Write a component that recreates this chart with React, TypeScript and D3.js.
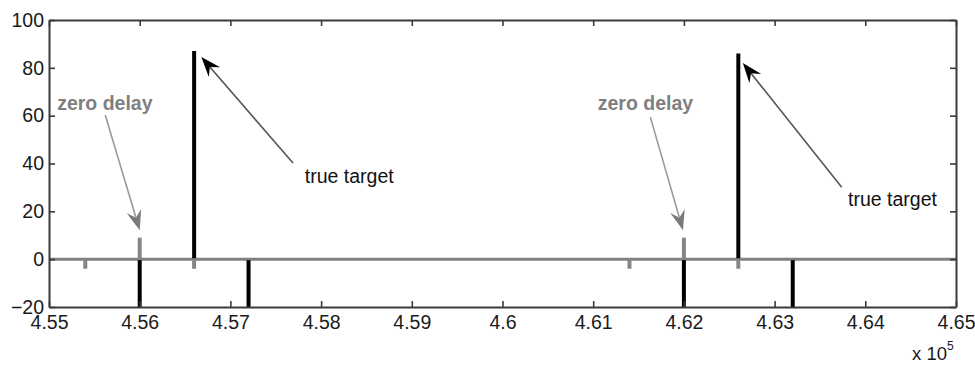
import React, { useEffect, useRef } from 'react';
import * as d3 from 'd3';

// x values are in units of 1e5
const xTicks = [4.55, 4.56, 4.57, 4.58, 4.59, 4.6, 4.61, 4.62, 4.63, 4.64, 4.65];
const xTickLabels = ['4.55', '4.56', '4.57', '4.58', '4.59', '4.6', '4.61', '4.62', '4.63', '4.64', '4.65'];
const yTicks = [-20, 0, 20, 40, 60, 80, 100];

// zero delay series (gray)
const grayX = [4.554, 4.560, 4.566, 4.614, 4.620, 4.626];
const grayY = [-4, 9, -4, -4, 9, -4];

// echo series (black)
const blackX = [4.560, 4.566, 4.572, 4.620, 4.626, 4.632];
const blackY = [-20, 87, -20, -20, 86, -20];

type Note = { text: string; tx: number; ty: number; x1: number; y1: number; x2: number; y2: number; kind: 'zero' | 'target' };
const notes: Note[] = [
    { text: 'zero delay', tx: 4.5509, ty: 62.3, x1: 4.5562, y1: 60.3, x2: 4.5600, y2: 12.1, kind: 'zero' },
    { text: 'zero delay', tx: 4.6105, ty: 62.3, x1: 4.6163, y1: 59.4, x2: 4.6199, y2: 12.1, kind: 'zero' },
    { text: 'true target', tx: 4.5782, ty: 31.8, x1: 4.5769, y1: 40.2, x2: 4.5668, y2: 84.5, kind: 'target' },
    { text: 'true target', tx: 4.6381, ty: 22.2, x1: 4.6374, y1: 30.1, x2: 4.6265, y2: 82, kind: 'target' },
];

function drawChart(svgRoot: SVGSVGElement) {
    const width = 975;
    const height = 365;
    const margin = { top: 20, right: 19, bottom: 58, left: 49 };
    const font = 'Liberation Sans, Arial, Helvetica, sans-serif';

    const xScale = d3.scaleLinear().domain([4.55, 4.65]).range([margin.left, width - margin.right]);
    const yScale = d3.scaleLinear().domain([-20, 100]).range([height - margin.bottom, margin.top]);

    const svg = d3.select(svgRoot);
    svg.selectChildren().remove();
    svg.attr('width', width).attr('height', height).attr('viewBox', [0, 0, width, height] as any);
    svg.append('rect').attr('width', width).attr('height', height).attr('fill', '#fff');

    const g = svg.append('g');

    // zero line
    g.append('line')
        .attr('x1', xScale(4.55)).attr('x2', xScale(4.65))
        .attr('y1', yScale(0)).attr('y2', yScale(0))
        .attr('stroke', '#808080').attr('stroke-width', 3);

    // gray stems
    g.selectAll('.gstem')
        .data(grayX.map((x, i) => ({ x, y: grayY[i] })))
        .enter().append('line')
        .attr('class', 'gstem')
        .attr('x1', (d) => xScale(d.x)).attr('x2', (d) => xScale(d.x))
        .attr('y1', yScale(0)).attr('y2', (d) => yScale(d.y))
        .attr('stroke', '#858585').attr('stroke-width', 4);

    // black stems
    g.selectAll('.bstem')
        .data(blackX.map((x, i) => ({ x, y: blackY[i] })))
        .enter().append('line')
        .attr('class', 'bstem')
        .attr('x1', (d) => xScale(d.x)).attr('x2', (d) => xScale(d.x))
        .attr('y1', (d) => yScale(0) + (d.y > 0 ? -1 : 1)).attr('y2', (d) => yScale(d.y))
        .attr('stroke', '#000').attr('stroke-width', 4);

    // axes box
    const axisColor = '#3a3a3a';
    const xAxis = g.append('g')
        .attr('transform', `translate(0,${yScale(-20)})`)
        .call(d3.axisBottom(xScale).tickValues(xTicks).tickFormat((d, i) => xTickLabels[i]).tickSizeInner(-6).tickSizeOuter(0).tickPadding(8));
    const yAxis = g.append('g')
        .attr('transform', `translate(${xScale(4.55)},0)`)
        .call(d3.axisLeft(yScale).tickValues(yTicks).tickFormat(d3.format('d')).tickSizeInner(-6).tickSizeOuter(0).tickPadding(5));
    g.append('g')
        .attr('transform', `translate(0,${yScale(100)})`)
        .call(d3.axisTop(xScale).tickValues(xTicks).tickFormat(() => '').tickSizeInner(-6).tickSizeOuter(0));
    g.append('g')
        .attr('transform', `translate(${xScale(4.65)},0)`)
        .call(d3.axisRight(yScale).tickValues(yTicks).tickFormat(() => '').tickSizeInner(-6).tickSizeOuter(0));

    g.selectAll('.domain').attr('stroke', axisColor).attr('stroke-width', 2);
    g.selectAll('.tick line').attr('stroke', axisColor).attr('stroke-width', 1.6);
    [xAxis, yAxis].forEach((a) => a.selectAll('text')
        .attr('fill', '#1a1a1a').attr('font-family', font).attr('font-size', 19.5));

    // exponent label
    const expText = svg.append('text')
        .attr('x', xScale(4.65) - 44).attr('y', height - 5)
        .attr('font-family', font).attr('font-size', 18.5).attr('fill', '#1a1a1a')
        .text('x 10');
    expText.append('tspan').attr('dy', -10).attr('font-size', 12).text('5');

    // annotations
    const arrow = (x1: number, y1: number, x2: number, y2: number, lineColor: string, headColor: string) => {
        const dx = x2 - x1, dy = y2 - y1;
        const len = Math.hypot(dx, dy);
        const ux = dx / len, uy = dy / len;
        const nx = -uy, ny = ux;
        const L = 20, W = 7.5, notch = 13;
        g.append('line')
            .attr('x1', x1).attr('y1', y1)
            .attr('x2', x2 - ux * notch).attr('y2', y2 - uy * notch)
            .attr('stroke', lineColor).attr('stroke-width', 1.6);
        const pts = [
            [x2, y2],
            [x2 - ux * L + nx * W, y2 - uy * L + ny * W],
            [x2 - ux * notch, y2 - uy * notch],
            [x2 - ux * L - nx * W, y2 - uy * L - ny * W],
        ];
        g.append('path')
            .attr('d', 'M' + pts.map((p) => p.join(',')).join('L') + 'Z')
            .attr('fill', headColor);
    };

    notes.forEach((n) => {
        const zero = n.kind === 'zero';
        svg.append('text')
            .attr('x', xScale(n.tx)).attr('y', yScale(n.ty))
            .attr('font-family', font).attr('font-size', 19.5)
            .attr('font-weight', zero ? 'bold' : 'normal')
            .attr('fill', zero ? '#7f7f7f' : '#111')
            .text(n.text);
        arrow(xScale(n.x1), yScale(n.y1), xScale(n.x2), yScale(n.y2),
            zero ? '#9a9a9a' : '#555', zero ? '#7a7a7a' : '#000');
    });
}

export default function App() {
    const svgRef = useRef<SVGSVGElement>(null);

    useEffect(() => {
        svgRef.current && drawChart(svgRef.current);
    }, []);

    return (
        <svg ref={svgRef} style={{ position: 'absolute', left: 0, top: 0 }}></svg>
    );
}
